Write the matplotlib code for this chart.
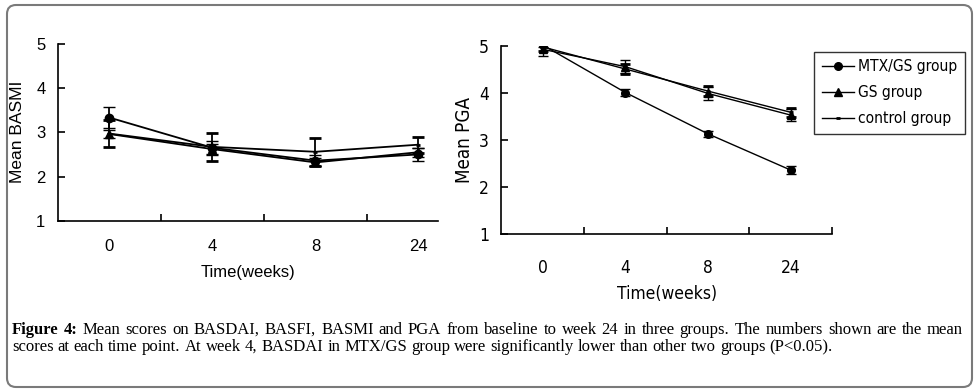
import matplotlib
matplotlib.use('Agg')
import matplotlib.pyplot as plt
from matplotlib import font_manager
from matplotlib.font_manager import FontProperties
from matplotlib.patches import FancyBboxPatch
from matplotlib.lines import Line2D
from matplotlib.transforms import IdentityTransform

# time points (categorical)
weeks = ['0', '4', '8', '24']

# Mean BASMI (left panel)
basmi_mtx = [3.33, 2.65, 2.36, 2.50]
basmi_mtx_err = [0.23, 0.16, 0.12, 0.14]
basmi_gs = [2.96, 2.62, 2.32, 2.55]
basmi_gs_err = [0.10, 0.12, 0.09, 0.10]
basmi_ctrl = [2.97, 2.67, 2.56, 2.72]
basmi_ctrl_err = [0.31, 0.31, 0.31, 0.18]

# Mean PGA (right panel)
pga_mtx = [5.02, 4.01, 3.13, 2.36]
pga_mtx_err = [0.05, 0.08, 0.07, 0.08]
pga_gs = [4.93, 4.56, 3.99, 3.53]
pga_gs_err = [0.15, 0.14, 0.14, 0.12]
pga_ctrl = [4.98, 4.51, 4.04, 3.59]
pga_ctrl_err = [0.08, 0.10, 0.10, 0.10]

group_labels = ['MTX/GS group', 'GS group', 'control group']

caption_1 = ("Mean scores on BASDAI, BASFI, BASMI and PGA from baseline to week 24 "
             "in three groups. The numbers shown are the mean")
caption_2 = ("scores at each time point. At week 4, BASDAI in MTX/GS group were "
             "significantly lower than other two groups (P<0.05).")

# the right panel uses a narrow sans face; look for one, else plain Liberation Sans
narrow_file = None
for f in font_manager.fontManager.ttflist:
    if f.style != 'normal' or f.weight not in (400, 'normal', 'regular', 'book'):
        continue
    if 'Narrow' in f.name or 'Condensed' in f.name or f.stretch in ('condensed', 'semi-condensed'):
        if 'Sans' in f.name:
            narrow_file = f.fname
            break


def narrow_font(size):
    if narrow_file:
        return FontProperties(fname=narrow_file, size=size)
    return FontProperties(family='Liberation Sans', size=size * 11 / 12.5)


sans = 'Liberation Sans'
serif = 'Liberation Serif'

W, H = 978, 391
fig = plt.figure(figsize=(W / 100, H / 100), dpi=100)


def px_axes(left, top, right, bottom):
    return fig.add_axes([left / W, 1 - bottom / H, (right - left) / W, (bottom - top) / H])


def style_axes(ax, fprop, xmax, minor, pad, labelpad):
    x = list(range(len(weeks)))
    ax.set_ylim(1, 5)
    ax.set_xlim(-0.5, xmax)
    ax.set_yticks([1, 2, 3, 4, 5])
    ax.set_xticks(x)
    ax.set_xticklabels(weeks)
    ax.set_xticks(minor, minor=True)
    for s in ['top', 'right']:
        ax.spines[s].set_visible(False)
    for s in ['left', 'bottom']:
        ax.spines[s].set_linewidth(1.2)
    ax.tick_params(axis='y', direction='in', length=5, width=1.2, pad=9)
    ax.tick_params(axis='x', which='major', length=0, pad=pad)
    ax.tick_params(axis='x', which='minor', direction='in', length=5, width=1.2)
    for lab in ax.get_xticklabels() + ax.get_yticklabels():
        lab.set_fontproperties(fprop)
    ax.set_xlabel('Time(weeks)', fontproperties=fprop, labelpad=labelpad)


def draw_groups(ax, series, lw, ms, cap):
    x = list(range(len(weeks)))
    markers = [('o', ms, 1), ('^', ms, 1), ('_', ms * 0.6, 2.0)]
    handles = []
    for (vals, errs), (mk, size, mew) in zip(series, markers):
        cont = ax.errorbar(x, vals, yerr=errs, color='black', lw=lw, marker=mk,
                           ms=size, mew=mew, capsize=cap, capthick=lw, elinewidth=lw)
        handles.append(cont.lines[0])
    return handles


# left panel: BASMI
ax1 = px_axes(58, 43.5, 438, 221)
draw_groups(ax1, [(basmi_mtx, basmi_mtx_err), (basmi_gs, basmi_gs_err),
                  (basmi_ctrl, basmi_ctrl_err)], 1.3, 6, 4)
style_axes(ax1, FontProperties(family=sans, size=12), 3.19, [0.5, 1.5, 2.5], 13, 8)
ax1.set_ylabel('Mean BASMI', family=sans, fontsize=12.5)
ax1.yaxis.set_label_coords(-0.087, 0.5)

# right panel: PGA
ax2 = px_axes(501.5, 46, 832, 234)
handles = draw_groups(ax2, [(pga_mtx, pga_mtx_err), (pga_gs, pga_gs_err),
                            (pga_ctrl, pga_ctrl_err)], 1.0, 5.5, 3.6)
style_axes(ax2, narrow_font(12.5), 3.5, [0.5, 1.5, 2.5, 3.5], 18, 6)
ax2.set_ylabel('Mean PGA', fontproperties=narrow_font(13.5))
ax2.yaxis.set_label_coords(-0.083, 0.5)

leg_handles = [Line2D([], [], color='black', lw=1.0, marker=h.get_marker(),
                      ms=h.get_markersize(), mew=h.get_markeredgewidth()) for h in handles]
leg = fig.legend(leg_handles, group_labels, loc='upper left',
                 bbox_to_anchor=(814 / W, 1 - 51.5 / H), bbox_transform=fig.transFigure,
                 borderaxespad=0, frameon=True, fancybox=False, prop=narrow_font(11.2),
                 handlelength=2.1, handletextpad=0.25, labelspacing=0.7, borderpad=0.5)
leg.get_frame().set_edgecolor('black')
leg.get_frame().set_linewidth(1.0)

# outer rounded frame
frame = FancyBboxPatch((7, 4), 965, 382, boxstyle='round,pad=0,rounding_size=9',
                       transform=IdentityTransform(), facecolor='none', edgecolor='#7a7a7a', lw=1.5)
fig.patches.append(frame)

# caption, line 1 justified
fig.canvas.draw()
renderer = fig.canvas.get_renderer()
cap_fs = 12


def place_words(words, y_base, x0, x1, justify):
    texts = []
    for w, bold in words:
        t = fig.text(0, 1 - y_base / H, w, family=serif, fontsize=cap_fs,
                     weight='bold' if bold else 'normal', va='baseline')
        texts.append(t)
    widths = [t.get_window_extent(renderer=renderer).width for t in texts]
    probe = fig.text(0, 0, 'x x', family=serif, fontsize=cap_fs)
    probe2 = fig.text(0, 0, 'xx', family=serif, fontsize=cap_fs)
    gap = probe.get_window_extent(renderer=renderer).width - probe2.get_window_extent(renderer=renderer).width
    probe.remove()
    probe2.remove()
    if justify:
        gap = (x1 - x0 - sum(widths)) / (len(texts) - 1)
    xpos = x0
    for t, wd in zip(texts, widths):
        t.set_x(xpos / W)
        xpos += wd + gap


words_1 = [('Figure', True), ('4:', True)] + [(w, False) for w in caption_1.split(' ')]
words_2 = [(w, False) for w in caption_2.split(' ')]
place_words(words_1, 334, 12, 963, True)
place_words(words_2, 351, 12, 963, False)

fig.savefig('out.png', dpi=100)
